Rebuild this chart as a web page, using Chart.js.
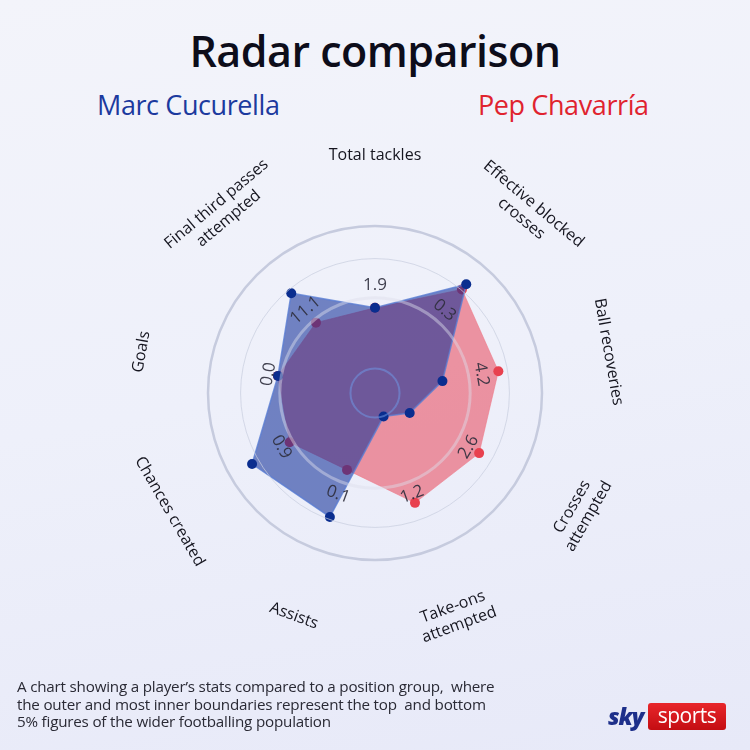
<!DOCTYPE html>
<html>
<head>
<meta charset="utf-8">
<script src="https://cdn.jsdelivr.net/npm/chart.js@4.4.1/dist/chart.umd.min.js"></script>
<style>
  html, body { margin: 0; padding: 0; }
  body {
    width: 750px; height: 750px; position: relative; overflow: hidden;
    background: linear-gradient(170deg, #f3f4fa 0%, #eef0fa 50%, #e7e9f8 100%);
    font-family: "Open Sans", "Noto Sans", sans-serif;
  }
  #grafico { position: absolute; left: 0; top: 0; }
  .titulo { position: absolute; left: 0; width: 750px; top: 21px; text-align: center;
    font-size: 43px; font-weight: 600; color: #0d0d1a; letter-spacing: -0.5px; }
  .nombre { position: absolute; top: 86px; font-size: 27px; font-weight: 400; letter-spacing: -0.4px; }
  #jugador1 { left: 97px; color: #1c3a9e; }
  #jugador2 { left: 478px; color: #e0232e; }
  .nota { position: absolute; left: 17px; top: 678px; font-size: 15.2px; line-height: 17.5px;
    color: #2a2a35; white-space: pre; letter-spacing: -0.2px; }
  .logo { position: absolute; left: 608px; top: 702px; height: 28px; }
  .logo .sky { position: absolute; left: 0; top: -2px; font-size: 23px; font-weight: 800;
    font-style: italic; color: #1d2f8a; letter-spacing: -1px; }
  .logo .sports { position: absolute; left: 40px; top: 1px; width: 78px; height: 27px;
    background: linear-gradient(#e8262b, #c40d12); border-radius: 3px; color: #fff;
    font-size: 21px; line-height: 25px; text-align: center; letter-spacing: -0.5px; }
</style>
</head>
<body>
<div class="titulo">Radar comparison</div>
<div class="nombre" id="jugador1">Marc Cucurella</div>
<div class="nombre" id="jugador2">Pep Chavarría</div>
<canvas id="grafico" width="750" height="750"></canvas>
<div class="nota">A chart showing a player’s stats compared to a position group,  where
the outer and most inner boundaries represent the top  and bottom
5% figures of the wider footballing population</div>
<div class="logo"><span class="sky">sky</span><span class="sports">sports</span></div>

<script>
// categorias (en el sentido de las agujas del reloj, empezando arriba)
var categorias = ["Total tackles", "Effective blocked crosses", "Ball recoveries",
  "Crosses attempted", "Take-ons attempted", "Assists", "Chances created", "Goals",
  "Final third passes attempted"];
var lineasEtiquetas = [["Total tackles"], ["Effective blocked", "crosses"], ["Ball recoveries"],
  ["Crosses", "attempted"], ["Take-ons", "attempted"], ["Assists"], ["Chances created"], ["Goals"],
  ["Final third passes", "attempted"]];
// valor medio del grupo de posicion, escrito sobre cada eje
var valoresMedios = ["1.9", "0.3", "4.2", "2.6", "1.2", "0.1", "0.9", "0.0", "11.1"];

// percentiles (0 = centro, 100 = anillo exterior)
var cucurella = [51, 85, 41, 24, 15, 79, 85, 59, 78];
var chavarria = [51, 81, 75, 72, 70, 49, 59, 59, 55];

// anillos de la rejilla
var anillos = [0, 14.7, 57, 80.5, 100];
var radioMedios = 64.7;
var radioEtiquetas = 142;

var coloresAnillos = ["rgba(0,0,0,0)", "rgba(110,150,225,0.55)", "rgba(222,222,234,0.45)", "rgba(200,205,222,0.7)", "rgba(198,203,222,1)"];
var anchosAnillos = [0, 2, 3, 1, 2.5];

var textoRadar = {
  id: "textoRadar",
  afterDraw: function (chart) {
    var escala = chart.scales.r;
    var ctx = chart.ctx;
    var n = categorias.length;
    for (var i = 0; i < n; i++) {
      var grados = i * 360 / n;
      var rot = (grados > 90 && grados < 270) ? grados - 180 : grados;
      rot = rot * Math.PI / 180;

      // valor medio
      var p = escala.getPointPositionForValue(i, radioMedios);
      ctx.save();
      ctx.translate(p.x, p.y);
      ctx.rotate(rot);
      ctx.font = "17px 'Open Sans'";
      ctx.fillStyle = "rgba(45,45,60,0.9)";
      ctx.textAlign = "center";
      ctx.textBaseline = "middle";
      ctx.fillText(valoresMedios[i], 0, 0);
      ctx.restore();

      // nombre del eje
      var q = escala.getPointPositionForValue(i, radioEtiquetas);
      var lineas = lineasEtiquetas[i];
      ctx.save();
      ctx.translate(q.x, q.y);
      ctx.rotate(rot);
      ctx.font = "16px 'Open Sans'";
      ctx.fillStyle = "#15151f";
      ctx.textAlign = "center";
      ctx.textBaseline = "middle";
      var alto = 19;
      for (var j = 0; j < lineas.length; j++) {
        ctx.fillText(lineas[j], 0, (j - (lineas.length - 1) / 2) * alto);
      }
      ctx.restore();
    }
  }
};

var graficoRadar = new Chart(document.getElementById("grafico"), {
  type: "radar",
  data: {
    labels: categorias,
    datasets: [
      {
        label: "Marc Cucurella",
        data: cucurella,
        backgroundColor: "rgba(12,42,150,0.56)",
        borderColor: "rgba(90,125,210,0.8)",
        borderWidth: 1.5,
        pointBackgroundColor: "#0a2d8f",
        pointBorderWidth: 0,
        pointRadius: 5,
        fill: true
      },
      {
        label: "Pep Chavarría",
        data: chavarria,
        backgroundColor: "rgba(232,52,72,0.5)",
        borderColor: "rgba(238,120,135,0.6)",
        borderWidth: 1,
        pointBackgroundColor: "#e8414f",
        pointBorderWidth: 0,
        pointRadius: 5,
        fill: true
      }
    ]
  },
  options: {
    responsive: false,
    animation: false,
    layout: { padding: { left: 208, right: 208, top: 226, bottom: 190 } },
    plugins: { legend: { display: false }, tooltip: { enabled: false } },
    scales: {
      r: {
        min: 0,
        max: 100,
        angleLines: { display: false },
        pointLabels: { display: false },
        ticks: { display: false },
        afterBuildTicks: function (escala) {
          escala.ticks = anillos.map(function (v) { return { value: v }; });
        },
        grid: {
          z: 1,
          circular: true,
          color: function (c) { return coloresAnillos[c.index]; },
          lineWidth: function (c) { return anchosAnillos[c.index]; }
        }
      }
    }
  },
  plugins: [textoRadar]
});
</script>
</body>
</html>
